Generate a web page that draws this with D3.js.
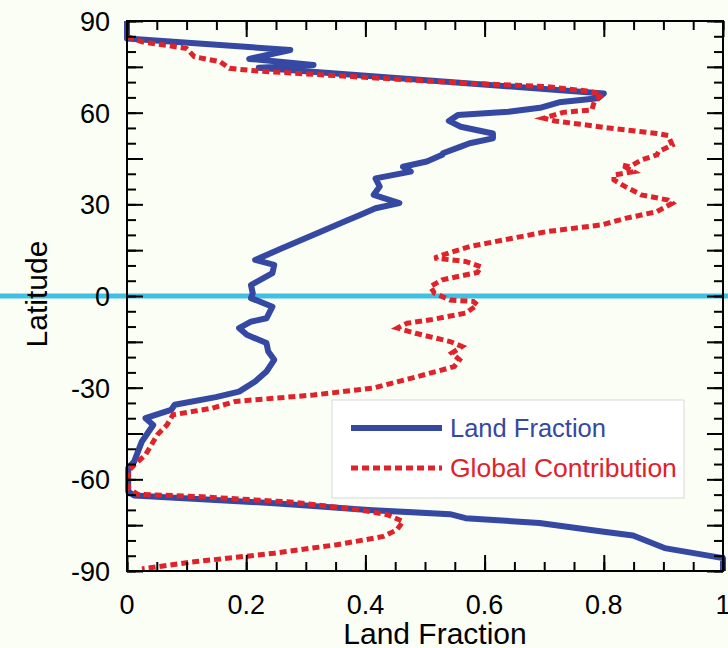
<!DOCTYPE html>
<html>
<head>
<meta charset="utf-8">
<script src="https://cdn.jsdelivr.net/npm/d3@7"></script>
<style>
  body { margin: 0; background: #fbfef5; }
  svg { display: block; font-family: "Liberation Sans", Arial, sans-serif; }
</style>
</head>
<body>
<svg id="chart" width="728" height="648"></svg>
<script>
// land fraction by latitude (blue, solid)
var landLat  = [90, 84.3, 80.5, 77.6, 75.6, 74.7, 66.3, 64.7, 63.4, 61.6, 60.3, 59.2, 57.3, 55.4, 53.2, 51.6, 50.0, 48.9, 46.7,
                46.2, 44.0, 42.3, 40.7, 38.5, 35.8, 33.1, 30.4, 28.7, 26.5, 24.4, 20.5, 15.6, 11.8, 10.2, 7.5, 3.6, 0.9,
                -0.7, -3.5, -7.3, -8.4, -10.5, -12.7, -15.4, -18.2, -20.9, -24.7, -28, -31.3, -33.1, -35.6, -37.3, -40,
                -42.2, -47.6, -54.2, -56.3, -64, -65.3, -67.8, -70, -71.4, -72.7, -74.3, -77.1, -78.4, -82.5, -85.8, -90];
var landFrac = [0, 0, 0.274, 0.205, 0.313, 0.221, 0.80, 0.79, 0.725, 0.693, 0.64, 0.555, 0.54, 0.56, 0.614, 0.614, 0.575, 0.56, 0.53,
                0.529, 0.503, 0.463, 0.476, 0.417, 0.424, 0.414, 0.457, 0.417, 0.391, 0.365, 0.319, 0.26, 0.215, 0.247, 0.244, 0.208, 0.211,
                0.208, 0.244, 0.234, 0.208, 0.188, 0.201, 0.234, 0.237, 0.247, 0.234, 0.215, 0.188, 0.149, 0.08, 0.074, 0.031,
                0.044, 0.025, 0.012, 0.002, 0.002, 0.012, 0.247, 0.405, 0.542, 0.568, 0.692, 0.797, 0.849, 0.902, 1.0, 1.0];

// contribution to global land (red, dashed)
var contribLat  = [84.9, 83.2, 81.9, 81, 78.3, 76.7, 74.5, 73.6, 71.8, 69.6, 68.5, 67.1, 66, 63.6, 60.9, 60.1, 58.2, 57.3, 55.1, 53.2, 52.5, 49.4, 47.3,
                   46.2, 44.5, 42.3, 42.9, 40.7, 39.6, 38, 35.8, 33.1, 31.4, 30.4, 27.6, 25.4, 23.3, 21.1, 16.2, 13.4, 12.4, 11.3, 9.6, 7.7, 5.3, 3.1, 0.9,
                   -1.3, -1.8, -2.9, -5.6, -7.8, -8.9, -10.5, -12.2, -14.9, -16.5, -18.7, -20.9, -23.1, -26.6, -30.2, -32.4, -34.5, -36.7, -38.9,
                   -42.2, -45.4, -52, -55.3, -57.4, -62.9, -64.9, -65.6, -67.5, -70, -71.6, -73.8, -76.5, -78.7, -81.4, -84.2, -86.9, -89.3];
var contribFrac = [0, 0.025, 0.071, 0.1, 0.113, 0.156, 0.172, 0.221, 0.378, 0.575, 0.705, 0.771, 0.797, 0.784, 0.78, 0.732, 0.699, 0.718, 0.804, 0.889, 0.908, 0.915, 0.892,
                   0.889, 0.863, 0.843, 0.83, 0.85, 0.817, 0.817, 0.836, 0.863, 0.908, 0.915, 0.889, 0.836, 0.797, 0.705, 0.575, 0.529, 0.516, 0.568, 0.594, 0.588, 0.529, 0.509, 0.516,
                   0.542, 0.581, 0.588, 0.568, 0.509, 0.47, 0.454, 0.484, 0.542, 0.562, 0.545, 0.558, 0.549, 0.483, 0.411, 0.313, 0.182, 0.143, 0.077,
                   0.067, 0.051, 0.031, 0.012, 0.002, 0.002, 0.018, 0.116, 0.28, 0.391, 0.437, 0.463, 0.453, 0.43, 0.352, 0.247, 0.116, 0.025];

var xLabels = [0, 0.2, 0.4, 0.6, 0.8, 1];
var yLabels = [-90, -60, -30, 0, 30, 60, 90];
var seriesNames = ["Land Fraction", "Global Contribution"];

var blue = "#3548a2", red = "#e0222b", cyan = "#40c0e2";

var svg = d3.select("#chart");
// note: "top" is taken by window.top, so plot edges get their own names
var plotL = 127, plotR = 723, plotT = 21, plotB = 571;

var x = d3.scaleLinear().domain([0, 1]).range([plotL, plotR]);
var y = d3.scaleLinear().domain([-90, 90]).range([plotB, plotT]);

// equator line, runs across the whole page
svg.append("line")
	.attr("x1", 0).attr("x2", 728)
	.attr("y1", y(0)).attr("y2", y(0))
	.attr("stroke", cyan).attr("stroke-width", 5);

var line = d3.line()
	.x(function(d){ return x(d[0]); })
	.y(function(d){ return y(d[1]); });

var landPts = landLat.map(function(l, i){ return [landFrac[i], l]; });
var contribPts = contribLat.map(function(l, i){ return [contribFrac[i], l]; });

svg.append("path").datum(landPts)
	.attr("d", line)
	.attr("fill", "none").attr("stroke", blue)
	.attr("stroke-width", 6).attr("stroke-linejoin", "round");

svg.append("path").datum(contribPts)
	.attr("d", line)
	.attr("fill", "none").attr("stroke", red)
	.attr("stroke-width", 5).attr("stroke-dasharray", "7,4");

// frame + inward ticks on every side
function ticks(axisFn, scale, values, size, transform) {
	var g = svg.append("g").attr("transform", transform)
		.call(axisFn(scale).tickValues(values).tickSize(size).tickFormat(""));
	g.select(".domain").remove();
	g.selectAll("line").attr("stroke", "#000").attr("stroke-width", 2);
}
var xMinor = d3.range(0, 1.0001, 0.05), xMajor = d3.range(0, 1.0001, 0.2);
var yMinor = d3.range(-90, 91, 5), yMajor = d3.range(-90, 91, 15);

ticks(d3.axisBottom, x, xMinor, -9, "translate(0," + plotB + ")");
ticks(d3.axisBottom, x, xMajor, -16, "translate(0," + plotB + ")");
ticks(d3.axisTop, x, xMinor, -9, "translate(0," + plotT + ")");
ticks(d3.axisTop, x, xMajor, -16, "translate(0," + plotT + ")");
ticks(d3.axisLeft, y, yMinor, -9, "translate(" + plotL + ",0)");
ticks(d3.axisLeft, y, yMajor, -16, "translate(" + plotL + ",0)");
ticks(d3.axisRight, y, yMinor, -9, "translate(" + plotR + ",0)");
ticks(d3.axisRight, y, yMajor, -16, "translate(" + plotR + ",0)");

svg.append("rect")
	.attr("x", plotL).attr("y", plotT)
	.attr("width", plotR - plotL).attr("height", plotB - plotT)
	.attr("fill", "none").attr("stroke", "#000").attr("stroke-width", 2);

// tick labels
svg.selectAll("text.xl").data(xLabels).enter().append("text")
	.attr("class", "xl")
	.attr("x", function(d){ return x(d); }).attr("y", 614)
	.attr("text-anchor", "middle").attr("font-size", 27)
	.text(function(d){ return d; });

svg.selectAll("text.yl").data(yLabels).enter().append("text")
	.attr("class", "yl")
	.attr("x", 110).attr("y", function(d){ return y(d) + 10; })
	.attr("text-anchor", "end").attr("font-size", 27)
	.text(function(d){ return d; });

svg.append("text")
	.attr("x", 435).attr("y", 644)
	.attr("text-anchor", "middle").attr("font-size", 30)
	.text("Land Fraction");

svg.append("text")
	.attr("transform", "translate(47,294) rotate(-90)")
	.attr("text-anchor", "middle").attr("font-size", 30)
	.text("Latitude");

// legend
var leg = svg.append("g");
leg.append("rect")
	.attr("x", 332).attr("y", 400).attr("width", 352).attr("height", 98)
	.attr("fill", "#fff").attr("stroke", "#d8d8d8").attr("stroke-width", 1);
leg.append("line")
	.attr("x1", 351).attr("x2", 442).attr("y1", 428).attr("y2", 428)
	.attr("stroke", blue).attr("stroke-width", 6);
leg.append("line")
	.attr("x1", 351).attr("x2", 442).attr("y1", 468).attr("y2", 468)
	.attr("stroke", red).attr("stroke-width", 5).attr("stroke-dasharray", "7,4");
leg.append("text")
	.attr("x", 450).attr("y", 437).attr("font-size", 25.5)
	.attr("fill", blue).text(seriesNames[0]);
leg.append("text")
	.attr("x", 450).attr("y", 477).attr("font-size", 26.5)
	.attr("fill", red).text(seriesNames[1]);
</script>
</body>
</html>
